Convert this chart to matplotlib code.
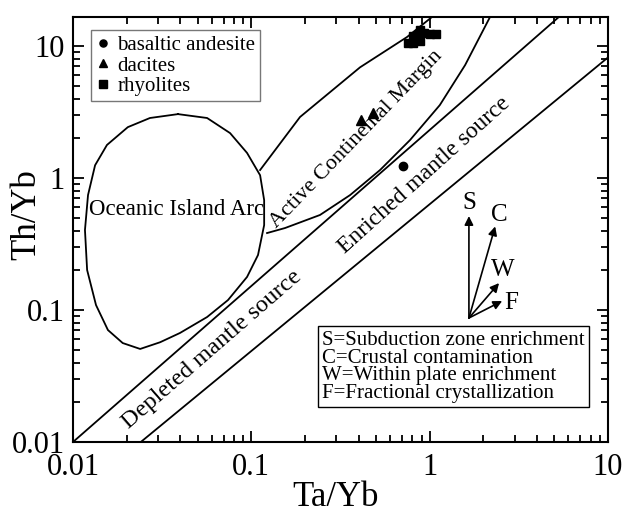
import numpy as np
import matplotlib
matplotlib.use('Agg')
import matplotlib.pyplot as plt
from matplotlib.ticker import LogLocator, FixedLocator, FixedFormatter, NullFormatter

plt.rcParams['font.family'] = ['Liberation Serif', 'DejaVu Serif']

# ---- sample data ----
basalt_x = [0.71]
basalt_y = [1.23]
dacite_x = [0.41, 0.48]
dacite_y = [2.75, 3.1]
rhyo_x = [0.76, 0.81, 0.88, 0.81, 0.86, 0.93, 1.0, 1.09, 0.88]
rhyo_y = [10.5, 10.5, 11.0, 11.9, 12.2, 12.5, 12.3, 12.3, 13.2]

# ---- field boundaries (Ta/Yb, Th/Yb) ----
oia_x = [0.0388, 0.0565, 0.076, 0.0946, 0.112, 0.118, 0.118, 0.109, 0.0946, 0.074,
         0.0565, 0.0398, 0.0308, 0.0238, 0.019, 0.0157, 0.01346, 0.012, 0.01167,
         0.01214, 0.0133, 0.0155, 0.0203, 0.027, 0.0388]
oia_y = [3.05, 2.85, 2.19, 1.55, 1.05, 0.68, 0.44, 0.261, 0.178, 0.119,
         0.0885, 0.067, 0.057, 0.0507, 0.0562, 0.0705, 0.109, 0.201, 0.404,
         0.743, 1.25, 1.78, 2.43, 2.85, 3.05]
acm_up_x = [0.112, 0.1875, 0.407, 0.746, 1.03]
acm_up_y = [1.15, 2.9, 6.9, 11.7, 16.6]
acm_lo_x = [0.1225, 0.1545, 0.2427, 0.358, 0.527, 0.776, 1.14, 1.58, 2.18]
acm_lo_y = [0.383, 0.418, 0.525, 0.743, 1.15, 1.94, 3.57, 7.17, 16.6]
mantle_a_x = [0.01, 5.3]
mantle_a_y = [0.01, 16.6]
mantle_b_x = [0.024, 10.0]
mantle_b_y = [0.01, 8.2]

# ---- vectors ----
vec_origin = (1.66, 0.087)
vec_names = ['S', 'C', 'W', 'F']
vec_end_x = [1.66, 2.33, 2.45, 2.55]
vec_end_y = [0.515, 0.43, 0.16, 0.117]
vec_lab_x = [1.66, 2.45, 2.58, 2.86]
vec_lab_y = [0.647, 0.525, 0.20, 0.113]

xticks = [0.01, 0.1, 1, 10]
xticklabels = ['0.01', '0.1', '1', '10']
yticks = [0.01, 0.1, 1, 10]
yticklabels = ['0.01', '0.1', '1', '10']

fig = plt.figure(figsize=(6.24, 5.17), dpi=100)
ax = fig.add_axes([73/624, 75/517, 535/624, 425/517])
ax.set_xscale('log')
ax.set_yscale('log')
ax.set_xlim(0.01, 10)
ax.set_ylim(0.01, 16.6)

lw = 1.3
ax.plot(oia_x, oia_y, color='k', lw=lw)
ax.plot(acm_up_x, acm_up_y, color='k', lw=lw)
ax.plot(acm_lo_x, acm_lo_y, color='k', lw=lw)
ax.plot(mantle_a_x, mantle_a_y, color='k', lw=lw)
ax.plot(mantle_b_x, mantle_b_y, color='k', lw=lw)

ax.plot(basalt_x, basalt_y, 'o', color='k', ms=6, label='basaltic andesite', ls='none')
ax.plot(dacite_x, dacite_y, '^', color='k', ms=7, label='dacites', ls='none')
ax.plot(rhyo_x, rhyo_y, 's', color='k', ms=6, label='rhyolites', ls='none')

leg = ax.legend(loc='upper left', bbox_to_anchor=(0.034, 0.969), borderaxespad=0,
                fontsize=15, frameon=True, fancybox=False, edgecolor='#555555',
                handlelength=0.6, handletextpad=0.4, labelspacing=0.05, borderpad=0.25,
                markerscale=0.85)
leg.get_frame().set_linewidth(1.0)

for i, n in enumerate(vec_names):
    ax.annotate('', xy=(vec_end_x[i], vec_end_y[i]), xytext=vec_origin,
                arrowprops=dict(arrowstyle='-|>', color='k', lw=1.2, mutation_scale=13,
                                shrinkA=0, shrinkB=0))
    ax.text(vec_lab_x[i], vec_lab_y[i], n, fontsize=18, ha='center', va='center')

ax.text(0.465, 0.262,
        'S=Subduction zone enrichment\nC=Crustal contamination\n'
        'W=Within plate enrichment\nF=Fractional crystallization',
        transform=ax.transAxes, fontsize=15, ha='left', va='top', linespacing=0.92,
        bbox=dict(boxstyle='square,pad=0.2', fc='white', ec='k', lw=1.0))

ax.text(0.0383, 0.573, 'Oceanic Island Arc', fontsize=16.5, ha='center', va='center')
ax.text(0.39, 1.95, 'Active Continental Margin', fontsize=16, ha='center', va='center',
        rotation=46, rotation_mode='anchor')
ax.text(0.060, 0.050, 'Depleted mantle source', fontsize=17.5, ha='center', va='center',
        rotation=41, rotation_mode='anchor')
ax.text(0.93, 1.05, 'Enriched mantle source', fontsize=17, ha='center', va='center',
        rotation=42, rotation_mode='anchor')

ax.xaxis.set_major_locator(FixedLocator(xticks))
ax.xaxis.set_major_formatter(FixedFormatter(xticklabels))
ax.yaxis.set_major_locator(FixedLocator(yticks))
ax.yaxis.set_major_formatter(FixedFormatter(yticklabels))
ax.xaxis.set_minor_locator(LogLocator(base=10, subs=np.arange(2, 10)))
ax.yaxis.set_minor_locator(LogLocator(base=10, subs=np.arange(2, 10)))
ax.xaxis.set_minor_formatter(NullFormatter())
ax.yaxis.set_minor_formatter(NullFormatter())
ax.tick_params(which='both', direction='in', top=True, right=True, width=1.3, labelsize=22)
ax.tick_params(axis='x', which='major', length=8, pad=8)
ax.tick_params(axis='y', which='major', length=8, pad=6)
ax.tick_params(which='minor', length=5)
for s in ax.spines.values():
    s.set_linewidth(1.5)

ax.set_xlabel('Ta/Yb', fontsize=25)
ax.set_ylabel('Th/Yb', fontsize=25)
ax.xaxis.set_label_coords(0.49, -0.092)
ax.yaxis.set_label_coords(-0.055, 0.534)

fig.savefig('out.png', dpi=100)
